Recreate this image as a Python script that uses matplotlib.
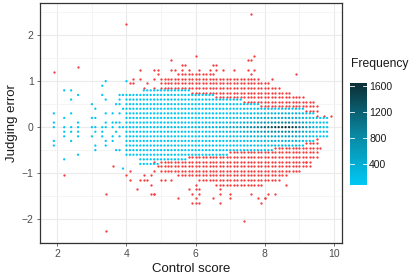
import numpy as np
import matplotlib
matplotlib.use("Agg")
import matplotlib.pyplot as plt
from matplotlib.colors import LinearSegmentedColormap, Normalize
from matplotlib.cm import ScalarMappable

plt.rcParams['font.family'] = ['Liberation Sans', 'DejaVu Sans']

# ---------------- data ----------------
# dense region: one column per control score 4.0 ... 9.8
col_x = [4.0, 4.1, 4.2, 4.3, 4.4, 4.5, 4.6, 4.7, 4.8, 4.9,
         5.0, 5.1, 5.2, 5.3, 5.4, 5.5, 5.6, 5.7, 5.8, 5.9,
         6.0, 6.1, 6.2, 6.3, 6.4, 6.5, 6.6, 6.7, 6.8, 6.9,
         7.0, 7.1, 7.2, 7.3, 7.4, 7.5, 7.6, 7.7, 7.8, 7.9,
         8.0, 8.1, 8.2, 8.3, 8.4, 8.5, 8.6, 8.7, 8.8, 8.9,
         9.0, 9.1, 9.2, 9.3, 9.4, 9.5, 9.6, 9.7, 9.8]
cyan_top = [0.7]*5 + [0.8]*14 + [0.7]*7 + [0.6]*8 + [0.5]*5 + [0.4]*13 + [0.3]*3 + [0.2]*4
cyan_bot = [-0.6]*4 + [-0.8]*6 + [-0.7]*8 + [-0.6]*12 + [-0.5]*13 + [-0.4]*9 + [-0.3]*3 + [-0.2]*4
nan = float('nan')
red_top = [nan]*10 + [1.05]*5 + [1.15]*11 + [1.05]*13 + [0.95]*3 + [0.85]*3 + [0.75]*3 + [0.65]*4 + [0.55]*3 + [0.45] + [nan]*3
red_bot = [nan]*10 + [-0.95]*5 + [-1.05]*6 + [-1.15]*5 + [-1.25]*14 + [-1.15]*5 + [-1.05]*2 + [-0.95]*4 + [-0.85]*3 + [-0.65]*2 + [nan]*3
# frequency at judging error 0 for each column
col_peak = [90, 95, 100, 110, 115, 120, 130, 140, 145, 150,
            160, 170, 175, 185, 190, 200, 210, 220, 230, 240,
            250, 260, 280, 290, 300, 320, 340, 360, 380, 400,
            430, 470, 520, 580, 650, 720, 800, 880, 960, 1050,
            1150, 1250, 1350, 1450, 1550, 1600, 1620, 1600, 1500, 1350,
            1150, 950, 750, 560, 400, 280, 200, 150, 110]
# share of the peak frequency by |judging error| (0, 0.1, 0.2, ...)
row_share = [1.0, 0.55, 0.33, 0.2, 0.13, 0.09, 0.06, 0.04, 0.03, 0.02]

# sparse points outside the dense region
sparse_cyan_x = [1.9, 1.9, 1.9, 1.9, 1.9,
                 2.2, 2.2, 2.2, 2.2, 2.2, 2.2,
                 2.4, 2.4, 2.4, 2.4, 2.4, 2.4,
                 2.6, 2.6, 2.6, 2.6, 2.6, 2.6,
                 3.0, 3.0, 3.0, 3.0,
                 3.1, 3.1, 3.1, 3.1, 3.1, 3.1,
                 3.3, 3.3, 3.3, 3.3, 3.3,
                 3.4, 3.4, 3.4, 3.4, 3.4, 3.4, 3.4,
                 3.6, 3.6, 3.6, 3.6, 3.6,
                 3.7, 3.7, 3.7, 3.7,
                 3.8, 3.8, 3.8, 3.8, 3.8, 3.8, 3.8, 3.8,
                 3.9, 3.9, 3.9, 3.9, 4.0]
sparse_cyan_y = [0.3, 0.1, 0.0, -0.3, -0.4,
                 0.8, 0.2, 0.0, -0.1, -0.2, -0.7,
                 0.8, 0.6, 0.3, 0.0, -0.1, -0.3,
                 0.7, 0.1, 0.0, -0.1, -0.2, -0.6,
                 0.5, 0.2, 0.0, -0.2,
                 0.4, 0.2, 0.0, -0.1, -0.4, -0.5,
                 0.9, 0.7, 0.0, -0.1, -0.2,
                 1.0, 0.6, 0.3, 0.1, 0.0, -0.3, -0.4,
                 0.3, 0.1, 0.0, -0.2, -0.3,
                 0.5, 0.1, -0.1, -0.5,
                 0.7, 0.6, 0.5, 0.3, 0.1, 0.0, -0.2, -0.5,
                 0.7, 0.4, 0.0, -0.9, 1.0]
sparse_red_x = [1.9, 2.6, 4.0, 7.6,
                4.4, 4.8, 4.9, 4.9, 4.2, 4.4, 4.8, 4.1, 4.2, 4.6, 4.8, 4.5,
                6.0, 7.7, 7.5, 7.6, 5.3, 5.6, 5.7, 6.5, 6.6,
                5.3, 5.4, 5.6, 5.8, 6.1, 6.6, 6.8, 7.1, 7.5, 7.7, 8.9, 8.2, 6.4, 7.6,
                9.7, 9.9,
                2.2, 3.6, 3.4, 3.4,
                4.1, 4.0, 4.1, 4.5, 4.7, 4.4, 4.5, 4.6, 4.7, 4.3, 4.7, 4.8, 4.8, 4.9, 4.8,
                5.0, 5.1, 5.3, 4.8, 5.5, 5.8, 6.0, 5.9, 6.1, 6.0, 6.1,
                5.9, 6.0, 6.7, 7.0, 7.6, 7.8, 8.0, 6.0, 6.1, 6.7, 7.9,
                6.5, 6.7, 7.0, 7.4, 8.1, 8.3, 8.0, 8.6, 9.2, 9.6]
sparse_red_y = [1.2, 1.3, 2.25, 2.45,
                1.25, 1.25, 1.25, 1.15, 1.05, 1.05, 1.05, 0.95, 0.95, 0.95, 0.85, 0.85,
                1.55, 1.55, 1.45, 1.45, 1.45, 1.35, 1.35, 1.35, 1.35,
                1.25, 1.25, 1.25, 1.25, 1.25, 1.25, 1.25, 1.25, 1.25, 1.25, 1.15, 1.05, 1.25, 1.15,
                0.25, 0.25,
                -1.05, -0.85, -1.45, -2.25,
                -0.95, -1.05, -1.15, -1.05, -1.05, -1.15, -1.15, -1.15, -1.25, -1.35, -1.45, -1.45, -0.75, -0.85, -0.95,
                -1.15, -1.15, -1.15, -1.45, -1.55, -1.35, -1.35, -1.45, -1.45, -1.55, -1.65,
                -1.65, -1.65, -1.65, -1.45, -1.45, -1.55, -1.55, -1.25, -1.35, -1.35, -1.65,
                -1.55, -1.45, -1.55, -2.05, -1.45, -1.45, -1.55, -1.25, -0.75, -0.45]

# ---------------- build the point table ----------------
cx, cy, cf, rx, ry = [], [], [], [], []
for i, x in enumerate(col_x):
    k_lo = int(round(cyan_bot[i] * 10))
    k_hi = int(round(cyan_top[i] * 10))
    for k in range(k_lo, k_hi + 1):
        cx.append(x); cy.append(k / 10)
        cf.append(col_peak[i] * row_share[min(abs(k), len(row_share) - 1)])
    if not np.isnan(red_top[i]):
        k = k_hi
        while (k + 0.5) / 10 <= red_top[i] + 1e-9:
            rx.append(x); ry.append((k + 0.5) / 10); k += 1
    if not np.isnan(red_bot[i]):
        k = k_lo
        while (k - 0.5) / 10 >= red_bot[i] - 1e-9:
            rx.append(x); ry.append((k - 0.5) / 10); k -= 1
cx += sparse_cyan_x; cy += sparse_cyan_y; cf += [5] * len(sparse_cyan_x)
rx += sparse_red_x; ry += sparse_red_y
cx, cy, cf = np.array(cx), np.array(cy), np.array(cf)
order = np.argsort(cf)
cx, cy, cf = cx[order], cy[order], cf[order]

# ---------------- drawing ----------------
W, H = 415, 277
fig = plt.figure(figsize=(W / 100, H / 100), dpi=100)
ax = fig.add_axes([40 / W, 1 - 243 / H, 302 / W, 240 / H])

cmap = LinearSegmentedColormap.from_list('freq', ['#00C8F5', '#0A86A0', '#0B2E35'])
norm = Normalize(vmin=75, vmax=1650)

ax.scatter(rx, ry, s=2.7, c='#F53B3B', linewidths=0, zorder=3)
ax.scatter(cx, cy, s=2.7, c=cf, cmap=cmap, norm=norm, linewidths=0, zorder=4)

ax.set_xlim(1.5, 10.23)
ax.set_ylim(-2.52, 2.7)
ax.set_xticks([2, 4, 6, 8, 10])
ax.set_yticks([-2, -1, 0, 1, 2])
ax.set_xticks([3, 5, 7, 9], minor=True)
ax.set_yticks([-2.5, -1.5, -0.5, 0.5, 1.5, 2.5], minor=True)
ax.grid(True, which='major', color='#EBEBEB', linewidth=0.8, zorder=0)
ax.grid(True, which='minor', color='#F2F2F2', linewidth=0.5, zorder=0)
ax.set_axisbelow(True)
ax.tick_params(which='major', length=2.5, width=0.5, color='#333333',
               labelsize=7.5, labelcolor='#4D4D4D', pad=2)
ax.tick_params(which='minor', length=0)
for sp in ax.spines.values():
    sp.set_color('#333333'); sp.set_linewidth(0.9)
ax.set_xlabel('Control score', fontsize=9.5, color='#1A1A1A', labelpad=3)
ax.set_ylabel('Judging error', fontsize=9.5, color='#1A1A1A', labelpad=3)

# colour bar
cax = fig.add_axes([350 / W, 1 - 185 / H, 17 / W, 102 / H])
sm = ScalarMappable(norm=norm, cmap=cmap)
cb = fig.colorbar(sm, cax=cax, ticks=[400, 800, 1200, 1600])
cb.outline.set_visible(False)
cax.tick_params(length=0, labelsize=7.5, labelcolor='#1A1A1A', pad=1.5)
for t in [400, 800, 1200, 1600]:
    cax.plot([0, 0.22], [t, t], color='white', lw=0.6, transform=cax.get_yaxis_transform())
    cax.plot([0.78, 1.0], [t, t], color='white', lw=0.6, transform=cax.get_yaxis_transform())
fig.text(351 / W, 1 - 64 / H, 'Frequency', fontsize=8.7, color='#1A1A1A', va='center', ha='left')

fig.savefig('out.png', dpi=100)
